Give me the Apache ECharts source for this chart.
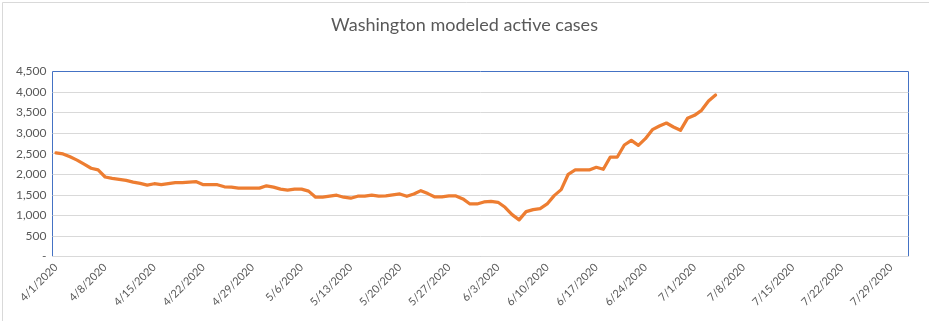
<!DOCTYPE html>
<html>
<head>
<meta charset="utf-8">
<script src="https://cdn.jsdelivr.net/npm/echarts@6/dist/echarts.min.js"></script>
<style>
html,body{margin:0;padding:0;background:#fff;}
#c{width:929px;height:321px;}
</style>
</head>
<body>
<div id="c"></div>
<script>
const title = "Washington modeled active cases";
const startDate = "2020-04-01";
const dayCount = 122; // axis spans 4/1/2020 .. 7/31/2020
const activeCases = [
  2520, 2495, 2426, 2345, 2245, 2147, 2106, 1934, 1900, 1877,
  1852, 1811, 1778, 1737, 1770, 1746, 1770, 1795, 1795, 1811,
  1820, 1746, 1746, 1746, 1696, 1688, 1664, 1664, 1664, 1664,
  1720, 1688, 1640, 1615, 1640, 1640, 1590, 1442, 1442, 1467,
  1491, 1442, 1418, 1467, 1467, 1491, 1467, 1475, 1497, 1521,
  1465, 1521, 1602, 1530, 1448, 1448, 1473, 1473, 1400, 1278,
  1278, 1327, 1343, 1319, 1197, 1019, 890, 1092, 1141, 1165,
  1278, 1481, 1627, 2000, 2105, 2105, 2105, 2170, 2121, 2420,
  2420, 2712, 2826, 2704, 2866, 3085, 3174, 3247, 3150, 3069,
  3360, 3433, 3555, 3781, 3927
];
const yTicks = [0, 500, 1000, 1500, 2000, 2500, 3000, 3500, 4000, 4500];

const categories = [];
{
  const d0 = new Date(startDate + "T00:00:00Z");
  for (let i = 0; i < dayCount; i++) {
    const d = new Date(d0.getTime() + i * 86400000);
    categories.push((d.getUTCMonth() + 1) + "/" + d.getUTCDate() + "/" + d.getUTCFullYear());
  }
}

const chart = echarts.init(document.getElementById('c'), null, {renderer: 'canvas'});
chart.setOption({
  animation: false,
  backgroundColor: '#fff',
  title: {
    text: title,
    left: 'center',
    top: 11,
    textStyle: {fontFamily: 'Lato', fontSize: 18, fontWeight: 'normal', color: '#595959'}
  },
  graphic: [{
    type: 'rect', left: 0, top: 0,
    shape: {x: 0.5, y: 0.5, width: 928, height: 320},
    style: {fill: 'none', stroke: '#d9d9d9', lineWidth: 1}, z: 100
  }],
  grid: {
    left: 52.5, right: 20.5, top: 71.5, bottom: 64.5,
    show: true, borderColor: '#4472C4', borderWidth: 1, backgroundColor: 'transparent'
  },
  xAxis: {
    type: 'category',
    data: categories,
    boundaryGap: true,
    axisLine: {show: true, lineStyle: {color: '#d9d9d9', width: 1}},
    axisTick: {show: false},
    axisLabel: {
      interval: 6, rotate: 45, margin: 9,
      fontFamily: 'Lato', fontSize: 11, color: '#595959'
    },
    splitLine: {show: false}
  },
  yAxis: {
    type: 'value',
    min: 0, max: 4500, interval: 500,
    axisLine: {show: false},
    axisTick: {show: false},
    axisLabel: {
      margin: 6, fontFamily: 'Lato', fontSize: 12, color: '#595959',
      formatter: function (v) { return v === 0 ? '-' : v.toLocaleString('en-US'); }
    },
    splitLine: {show: true, showMaxLine: false, lineStyle: {color: '#d9d9d9', width: 1}}
  },
  series: [{
    type: 'line',
    data: activeCases,
    showSymbol: false,
    symbol: 'none',
    lineStyle: {color: '#ED7D31', width: 3.25, cap: 'round', join: 'round'},
    itemStyle: {color: '#ED7D31'}
  }]
});
</script>
</body>
</html>
